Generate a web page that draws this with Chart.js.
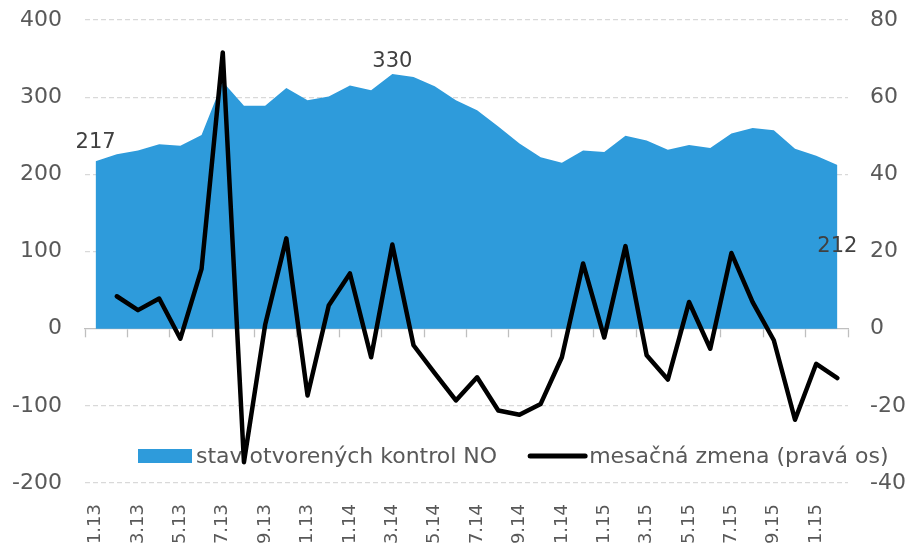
<!DOCTYPE html>
<html>
<head>
<meta charset="utf-8">
<script src="https://cdn.jsdelivr.net/npm/chart.js@4"></script>
<style>
  html, body { margin: 0; padding: 0; background: #fff; }
  #wrap { width: 909px; height: 543px; }
</style>
</head>
<body>
<div id="wrap"><canvas id="chart"></canvas></div>
<script>
// =========================
// Données
// =========================
const months = [
  '1.13', '2.13', '3.13', '4.13', '5.13', '6.13', '7.13', '8.13', '9.13', '10.13', '11.13', '12.13',
  '1.14', '2.14', '3.14', '4.14', '5.14', '6.14', '7.14', '8.14', '9.14', '10.14', '11.14', '12.14',
  '1.15', '2.15', '3.15', '4.15', '5.15', '6.15', '7.15', '8.15', '9.15', '10.15', '11.15', '12.15'
];

// stav otvorených kontrol NO (left axis)
const openControls = [
  217, 226, 231, 239, 237, 251, 320, 289, 289, 312, 296, 301,
  315, 309, 330, 326, 314, 296, 283, 262, 240, 222, 215, 231,
  229, 250, 244, 232, 238, 234, 253, 260, 257, 233, 224, 212
];

// mesačná zmena (right axis)
const monthlyChange = [
  null, 8.4, 4.8, 7.8, -2.6, 15.5, 71.6, -34.6, 1, 23.4, -17.3, 6,
  14.3, -7.4, 21.8, -4.3, -11.5, -18.6, -12.6, -21.2, -22.3, -19.5, -7.4, 16.9,
  -2.3, 21.4, -6.9, -13.2, 6.9, -5.2, 19.6, 6.9, -3.0, -23.6, -9.1, -12.8
];

const leftTicks = { min: -200, max: 400, step: 100 };
const rightTicks = { min: -40, max: 80, step: 20 };

const seriesNames = ['stav otvorených kontrol NO', 'mesačná zmena (pravá os)'];
const labeledPoints = [0, 14, 35];

const FONT = 'DejaVu Sans';
const TEXT = '#595959';
const BLUE = '#2e9bdb';

// =========================
// Légende dans la zone du graphe
// =========================
const inlineLegend = {
  id: 'inlineLegend',
  beforeDatasetsDraw(chart) {
    const { ctx, chartArea } = chart;
    ctx.save();
    ctx.font = '22px "' + FONT + '"';
    ctx.fillStyle = TEXT;
    ctx.textBaseline = 'alphabetic';
    const baseY = chartArea.bottom - 20;
    let x = chartArea.left + 53;

    ctx.fillStyle = BLUE;
    ctx.fillRect(x, chartArea.bottom - 34, 54, 14);
    x += 58;
    ctx.fillStyle = TEXT;
    ctx.fillText(seriesNames[0], x, baseY);
    x += ctx.measureText(seriesNames[0]).width + 33;

    ctx.strokeStyle = '#000';
    ctx.lineWidth = 5;
    ctx.lineCap = 'round';
    ctx.beginPath();
    ctx.moveTo(x, chartArea.bottom - 27);
    ctx.lineTo(x + 55, chartArea.bottom - 27);
    ctx.stroke();
    x += 59;
    ctx.fillText(seriesNames[1], x, baseY);
    ctx.restore();
  }
};

// =========================
// Étiquettes de valeurs
// =========================
const valueLabels = {
  id: 'valueLabels',
  afterDatasetsDraw(chart) {
    const { ctx } = chart;
    const meta = chart.getDatasetMeta(0);
    const zeroY = chart.scales.y.getPixelForValue(0);
    ctx.save();
    ctx.font = '21px "' + FONT + '"';
    ctx.fillStyle = '#404040';
    ctx.textAlign = 'center';
    labeledPoints.forEach((i, k) => {
      const pt = meta.data[i];
      const txt = String(openControls[i]);
      if (k === labeledPoints.length - 1) {
        // dernière valeur : au milieu de la surface
        ctx.textBaseline = 'middle';
        ctx.fillText(txt, pt.x, (pt.y + zeroY) / 2);
      } else {
        ctx.textBaseline = 'alphabetic';
        ctx.fillText(txt, pt.x, pt.y - (k === 0 ? 13 : 7));
      }
    });
    ctx.restore();
  }
};

// pas de marge verticale due aux étiquettes des axes Y
const noVerticalPadding = s => { s.paddingTop = 0; s.paddingBottom = 0; };

new Chart(document.getElementById('chart'), {
  type: 'line',
  data: {
    labels: months,
    datasets: [
      {
        label: seriesNames[0],
        data: openControls,
        yAxisID: 'y',
        fill: 'origin',
        backgroundColor: BLUE,
        borderWidth: 0,
        pointRadius: 0,
        tension: 0,
        order: 2
      },
      {
        label: seriesNames[1],
        data: monthlyChange,
        yAxisID: 'y1',
        fill: false,
        borderColor: '#000',
        borderWidth: 4.5,
        borderJoinStyle: 'round',
        borderCapStyle: 'round',
        pointRadius: 0,
        tension: 0,
        order: 1
      }
    ]
  },
  options: {
    responsive: true,
    maintainAspectRatio: false,
    animation: false,
    layout: { padding: { top: 20, left: 0, right: 0, bottom: 0 } },
    plugins: {
      legend: { display: false },
      tooltip: { enabled: false }
    },
    scales: {
      x: {
        type: 'category',
        offset: true,
        grid: { display: false },
        border: { display: false },
        ticks: {
          autoSkip: false,
          minRotation: 90,
          maxRotation: 90,
          padding: 13,
          color: TEXT,
          font: { family: FONT, size: 18 },
          callback: function (v, i) { return i % 2 === 0 ? this.getLabelForValue(v) : ''; }
        },
        afterFit: s => { s.height = 60; }
      },
      x0: {
        type: 'category',
        labels: months,
        position: { y: 0 },
        offset: true,
        grid: {
          offset: true,
          drawOnChartArea: false,
          drawTicks: true,
          tickLength: 8,
          tickWidth: 1.3,
          tickColor: c => (c.index === undefined || c.index % 2 === 0) ? '#bfbfbf' : 'rgba(0,0,0,0)'
        },
        border: { display: true, color: '#bfbfbf', width: 1.3 },
        ticks: { display: false }
      },
      y: {
        position: 'left',
        min: leftTicks.min,
        max: leftTicks.max,
        grid: {
          drawTicks: false,
          lineWidth: 1.3,
          color: c => c.tick && c.tick.value === 0 ? 'rgba(0,0,0,0)' : '#d9d9d9'
        },
        border: { display: false, dash: [5, 3] },
        ticks: {
          stepSize: leftTicks.step,
          padding: 23,
          color: TEXT,
          font: { family: FONT, size: 22 }
        },
        afterFit: s => { s.width = 85; noVerticalPadding(s); }
      },
      y1: {
        position: 'right',
        min: rightTicks.min,
        max: rightTicks.max,
        grid: { display: false, drawTicks: false },
        border: { display: false },
        ticks: {
          stepSize: rightTicks.step,
          padding: 22,
          color: TEXT,
          font: { family: FONT, size: 22 }
        },
        afterFit: s => { s.width = 61; noVerticalPadding(s); }
      }
    }
  },
  plugins: [inlineLegend, valueLabels]
});
</script>
</body>
</html>
